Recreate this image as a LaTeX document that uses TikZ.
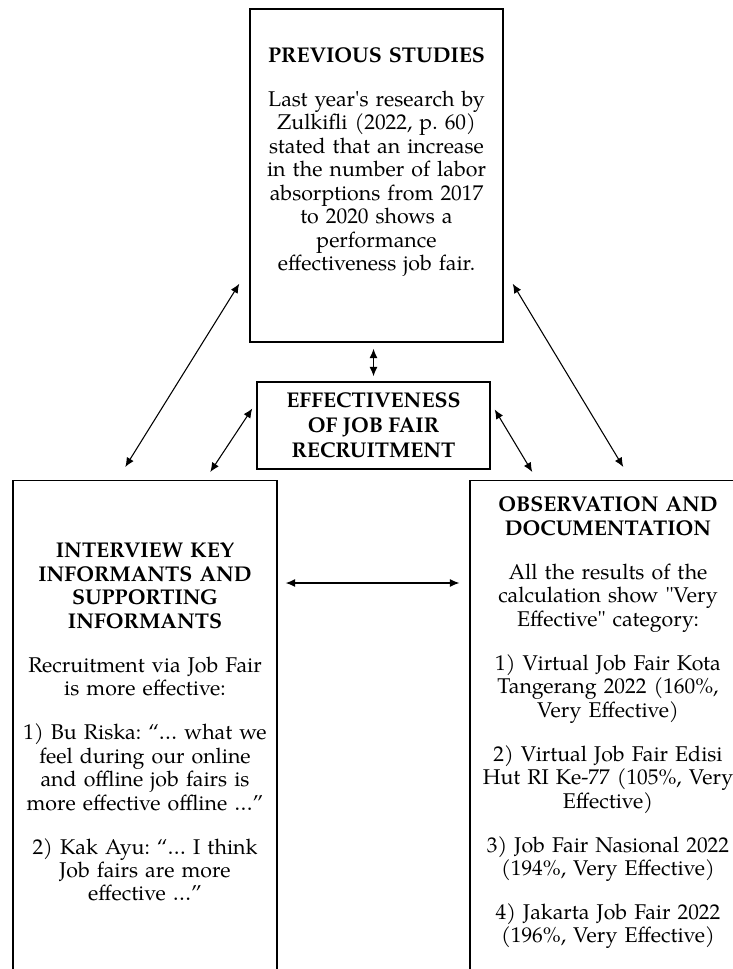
\documentclass[tikz,border=0pt]{standalone}
\usepackage{fontspec}
\setmainfont{TeX Gyre Pagella}
\usepackage{tikz}
\usetikzlibrary{arrows.meta,positioning}
\frenchspacing
\newcommand{\paragap}{\\[15.4pt]}
\tikzset{
    framebox/.style={
        rectangle,
        draw=black,
        line width=1.1pt,
        inner sep=0pt
    },
    boxtext/.style={
        inner sep=0pt,
        align=center,
        text width=260pt,
        font=\fontsize{16}{17.6}\selectfont
    },
    link/.style={{Latex[length=7pt,width=6pt]}-{Latex[length=7pt,width=6pt]}, line width=0.8pt},
}

\begin{document}
\begin{tikzpicture}[x=0.75pt, y=-0.75pt]
    \useasboundingbox (0,0) rectangle (732,969);

    \node[framebox, minimum width=189.75pt, minimum height=249.75pt] (prev) at (376.5,175.5) {};
    \node[framebox, minimum width=174.75pt, minimum height=65.25pt, align=center, font=\fontsize{16}{18.75}\selectfont\bfseries] (effect) at (373.5,425.5) {EFFECTIVENESS\\OF JOB FAIR\\RECRUITMENT};
    \node[framebox, minimum width=198pt, minimum height=400pt, anchor=north] (interview) at (145,480) {};
    \node[framebox, minimum width=207pt, minimum height=400pt, anchor=north] (observe) at (608,480) {};

    \node[boxtext, below=29.3pt of prev.north] (prevtext) {\textbf{PREVIOUS STUDIES}\paragap Last year\textquotesingle s research by\\Zulkifli (2022, p. 60)\\stated that an increase\\in the number of labor\\absorptions from 2017\\to 2020 shows a\\performance\\effectiveness job fair.};
    \node[boxtext, below=47pt of interview.north] (interviewtext) {{\bfseries INTERVIEW KEY\\INFORMANTS AND\\SUPPORTING\\INFORMANTS}\paragap Recruitment via Job Fair\\is more effective:\paragap 1) Bu Riska: “… what we\\feel during our online\\and offline job fairs is\\more effective offline …”\paragap 2) Kak Ayu: “… I think\\Job fairs are more\\effective …”};
    \node[boxtext, below=12.5pt of observe.north] (observetext) {{\bfseries OBSERVATION AND\\DOCUMENTATION}\paragap All the results of the\\calculation show \textquotedbl Very\\Effective\textquotedbl{} category:\paragap 1) Virtual Job Fair Kota\\Tangerang 2022 (160\%,\\Very Effective)\paragap 2) Virtual Job Fair Edisi\\Hut RI Ke-77 (105\%, Very\\Effective)\paragap 3) Job Fair Nasional 2022\\(194\%, Very Effective)\paragap 4) Jakarta Job Fair 2022\\(196\%, Very Effective)};

    \draw[link] ([shift={(-10,-59)}]prev.south west) -- ([shift={(113,-13)}]interview.north west);
    \draw[link] ([shift={(-4,-17)}]effect.west) -- ([shift={(198,-8)}]interview.north west);
    \draw[link] ([shift={(4,-16)}]effect.east) -- ([shift={(63,-8)}]observe.north west);
    \draw[link] ([shift={(9,-59)}]prev.south east) -- ([shift={(154,-13)}]observe.north west);
    \draw[link, shorten <=4.5pt, shorten >=3.75pt] (prev.south -| effect.north) -- (effect.north);
    \draw[link] ([shift={(8,103)}]interview.north east) -- ([shift={(-10,103)}]observe.north west);
\end{tikzpicture}
\end{document}
